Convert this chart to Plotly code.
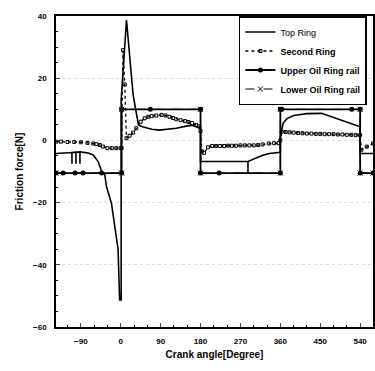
import plotly.graph_objects as go

# ---- data ----
top_x = [-146, -120, -110, -110, -110, -101, -101, -101, -92, -92, -92, -75, -62, -51, -43, -36, -32, -21, -14, -6, -2.5, 1, 1, 13, 28, 40, 49, 70, 87, 105, 125, 145, 161, 177, 180, 180, 230, 287, 287, 287, 300, 320, 335, 360, 360, 366, 375, 390, 420, 453, 540, 540, 569]
top_y = [-4.2, -4.0, -3.9, -7.5, -3.9, -3.8, -7.5, -3.8, -3.7, -7.5, -3.7, -4.0, -4.7, -6.8, -10, -11, -14.9, -20.2, -27.7, -35, -51.3, -51.3, 13, 38.7, 14.6, 5, 4.4, 3.6, 3.3, 3.5, 3.9, 4.5, 4.9, 4.0, 4.0, -6.8, -6.8, -6.8, -10.5, -6.8, -6.0, -4.8, -4.2, -3.8, 1.0, 5.5, 7.0, 8.0, 8.6, 8.7, 4.4, -4.2, -4.2]

second_x = [-146, -135, -120, -105, -90, -75, -62, -55, -47, -40, -30, -20, -10, 0, 2, 5, 9, 13, 20, 28, 35, 45, 54, 62, 70, 80, 92, 101, 110, 118, 125, 135, 145, 153, 161, 170, 177, 180, 183, 188, 197, 206, 215, 224, 233, 242, 251, 260, 270, 280, 290, 300, 310, 320, 334, 346, 356, 360, 363, 372, 381, 390, 400, 410, 420, 430, 440, 450, 460, 470, 480, 490, 500, 510, 520, 530, 540, 543, 555, 569]
second_y = [-0.4, -0.4, -0.5, -0.5, -0.6, -0.8, -1.0, -1.2, -1.5, -2.0, -2.5, -2.5, -2.5, -2.5, -2.5, 29, 18, 0.7, 1.5, 2.5, 3.9, 6.0, 7.1, 7.6, 7.8, 8.0, 8.2, 8.0, 7.6, 7.2, 6.8, 6.5, 6.2, 5.9, 5.6, 5.0, 4.5, 3.0, -3.5, -4.0, -2.2, -1.8, -1.8, -1.8, -1.8, -1.7, -1.7, -1.7, -1.6, -1.6, -1.6, -1.6, -1.5, -1.3, -1.0, -0.9, -0.9, 0.0, 2.8, 2.7, 2.6, 2.5, 2.4, 2.3, 2.2, 2.2, 2.1, 2.1, 2.0, 2.0, 2.0, 1.9, 1.9, 1.8, 1.8, 1.7, 1.7, -3.0, -2.0, -1.0]

upper_x = [-146, -130, -103, -85, -43, 2, 2, 67, 180, 180, 222, 360, 360, 363, 521, 540, 540, 569]
upper_y = [-10.5, -10.5, -10.5, -10.5, -10.5, -10.5, 10, 10, 10, -10.5, -10.5, -10.5, 10, 10, 10, 10, -10.5, -10.5]

lower_x = [-146, 2, 2, 180, 180, 360, 360, 540, 540, 569]
lower_y = [-10.5, -10.5, 10, 10, -10.5, -10.5, 10, 10, -10.5, -10.5]

x_ticks = [-90, 0, 90, 180, 270, 360, 450, 540]
y_ticks = [-60, -40, -20, 0, 20, 40]

fig = go.Figure()
fig.add_trace(go.Scatter(x=top_x, y=top_y, name="Top Ring", mode="lines",
                         line=dict(color="black", width=1.6)))
fig.add_trace(go.Scatter(x=second_x, y=second_y, name="<b>Second Ring</b>", mode="lines+markers",
                         line=dict(color="black", width=1.3, dash="dot"),
                         marker=dict(symbol="square-open", size=3, color="black", line=dict(width=1))))
fig.add_trace(go.Scatter(x=upper_x, y=upper_y, name="<b>Upper Oil Ring rail</b>", mode="lines+markers",
                         line=dict(color="black", width=1.8),
                         marker=dict(symbol="circle", size=5, color="black")))
fig.add_trace(go.Scatter(x=lower_x, y=lower_y, name="<b>Lower Oil Ring rail</b>", mode="lines+markers",
                         line=dict(color="black", width=1, dash="dash"),
                         marker=dict(symbol="x-thin-open", size=5, color="black", line=dict(width=1, color="black"))))

fig.update_layout(
    width=375, height=371,
    margin=dict(l=56, r=0, t=16, b=44),
    paper_bgcolor="white", plot_bgcolor="white",
    font=dict(family="Liberation Sans, Arial, sans-serif", color="black"),
    showlegend=True,
    legend=dict(x=0.577, y=1.0, xanchor="left", yanchor="top",
                bgcolor="white", bordercolor="black", borderwidth=1.5,
                font=dict(size=9, color="black"), tracegroupgap=0,
                itemwidth=30),
)
fig.update_xaxes(range=[-146, 569], tickvals=x_ticks, ticks="inside", ticklen=4,
                 tickfont=dict(size=8, weight="bold"), ticklabelstandoff=6,
                 minor=dict(dtick=30, tick0=0, ticks="inside", ticklen=2, tickcolor="black"),
                 showline=True, linecolor="black", linewidth=1.5, mirror=True,
                 showgrid=False, zeroline=False,
                 title=dict(text="<b>Crank angle[Degree]</b>", font=dict(size=10), standoff=6))
fig.update_yaxes(range=[-60, 40], tickvals=y_ticks, ticks="inside", ticklen=4,
                 tickfont=dict(size=8, weight="bold"), ticklabelstandoff=6,
                 minor=dict(dtick=5, tick0=0, ticks="inside", ticklen=2, tickcolor="black"),
                 showline=True, linecolor="black", linewidth=1.5, mirror=True,
                 showgrid=True, gridcolor="#dddddd", griddash="dot", gridwidth=1, zeroline=False,
                 title=dict(text="<b>Friction force[N]</b>", font=dict(size=10), standoff=8))

fig.write_html("out.html")
